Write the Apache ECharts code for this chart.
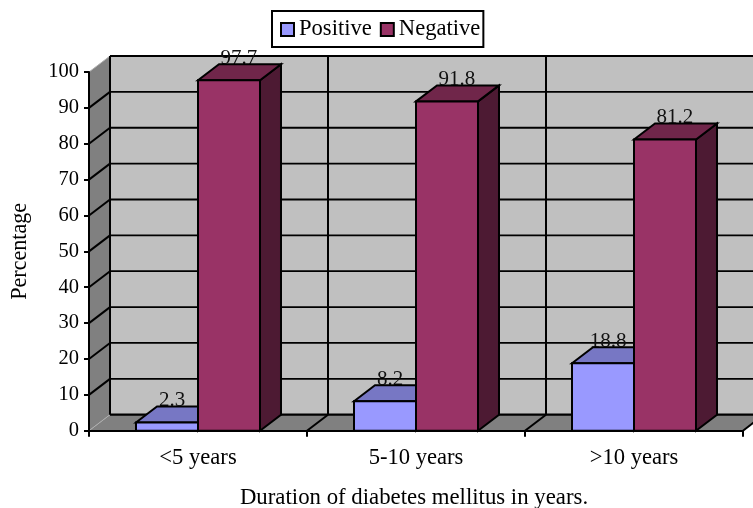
<!DOCTYPE html>
<html>
<head>
<meta charset="utf-8">
<style>html,body{margin:0;padding:0;background:#fff}#c{width:753px;height:508px}</style>
<script src="https://cdn.jsdelivr.net/npm/echarts@6/dist/echarts.min.js"></script>
</head>
<body>
<div id="c"></div>
<script>
var categories = ['<5 years', '5-10 years', '>10 years'];
var positive = [2.3, 8.2, 18.8];
var negative = [97.7, 91.8, 81.2];
var yTicks = [0, 10, 20, 30, 40, 50, 60, 70, 80, 90, 100];

var FONT = '"Liberation Serif", "Times New Roman", serif';
var FS = 22.6;
var FS_SMALL = 21;
var DX = 21, DY = -16;
var WALL = '#C0C0C0', DARKWALL = '#808080';
var posColors = {front: '#9999FF', top: '#7777C4', side: '#5C5C99'};
var negColors = {front: '#993366', top: '#70264A', side: '#4D1A33'};

function poly(pts, fill, stroke, w) {
  return {type: 'polygon', shape: {points: pts},
    style: {fill: fill, stroke: stroke || null, lineWidth: w || 0, lineJoin: 'miter'}};
}
function line(pts, stroke, w) {
  return {type: 'polyline', shape: {points: pts},
    style: {fill: null, stroke: stroke, lineWidth: w}};
}

function renderWalls(params, api) {
  var band = api.size([1, 0])[0];
  var c0 = api.coord([0, 0]), c1 = api.coord([0, 100]);
  var left = c0[0] - band / 2;
  var right = left + band * categories.length;
  var y0 = c0[1], y1 = c1[1];
  var ch = [];
  ch.push(poly([[left + DX, y1 + DY], [right + DX, y1 + DY], [right + DX, y0 + DY], [left + DX, y0 + DY]], WALL));
  ch.push(poly([[left, y1], [left + DX, y1 + DY], [left + DX, y0 + DY], [left, y0]], DARKWALL));
  ch.push(poly([[left, y0], [left + DX, y0 + DY], [right + DX, y0 + DY], [right, y0]], DARKWALL));
  yTicks.forEach(function (t) {
    var y = api.coord([0, t])[1];
    var edge = t === 0 || t === 100;
    ch.push(line([[left, y], [left + DX, y + DY]], edge ? '#B0B0B0' : '#000', edge ? 1 : 2));
    ch.push(line([[left + DX, y + DY], [right + DX, y + DY]], '#000', t === 100 || t === 0 ? 2.2 : 1.8));
  });
  for (var i = 0; i <= categories.length; i++) {
    var x = left + band * i;
    if (i > 0) ch.push(line([[x, y0], [x + DX, y0 + DY]], '#000', 2));
    ch.push(line([[x + DX, y0 + DY], [x + DX, y1 + DY]], '#000', 2));
  }
  return {type: 'group', children: ch};
}

function barRenderer(colors, side) {
  return function (params, api) {
    var band = api.size([1, 0])[0];
    var w = band * 0.2844;
    var c = api.coord([api.value(0), api.value(1)]);
    var b = api.coord([api.value(0), 0]);
    var x0 = side < 0 ? c[0] - w : c[0];
    var x1 = x0 + w, yt = c[1], yb = b[1];
    var s = '#000', lw = 2;
    return {type: 'group', children: [
      poly([[x1, yt], [x1 + DX, yt + DY], [x1 + DX, yb + DY], [x1, yb]], colors.side, s, lw),
      poly([[x0, yt], [x0 + DX, yt + DY], [x1 + DX, yt + DY], [x1, yt]], colors.top, s, lw),
      poly([[x0, yt], [x1, yt], [x1, yb], [x0, yb]], colors.front, s, lw)
    ]};
  };
}

function labelRenderer(side, shift) {
  return function (params, api) {
    var band = api.size([1, 0])[0];
    var w = band * 0.2844;
    var c = api.coord([api.value(0), api.value(1)]);
    return {type: 'text', style: {
      text: String(api.value(1)),
      x: c[0] + side * w / 2 + shift, y: c[1] + DY + 5,
      textAlign: 'center', textVerticalAlign: 'bottom',
      fill: '#111', font: FS_SMALL + 'px ' + FONT
    }};
  };
}

function pairs(arr) { return arr.map(function (v, i) { return [i, v]; }); }

var chart = echarts.init(document.getElementById('c'), null, {renderer: 'canvas'});
chart.setOption({
  animation: false,
  backgroundColor: '#fff',
  textStyle: {fontFamily: FONT},
  grid: {left: 89, right: 10, top: 72, bottom: 77.3, containLabel: false, outerBoundsMode: 'none'},
  legend: {
    data: ['Positive', 'Negative'],
    left: 272, top: 11,
    orient: 'horizontal',
    backgroundColor: '#fff',
    borderColor: '#000', borderWidth: 2, borderRadius: 0,
    padding: [7, 3, 6, 8],
    itemWidth: 13, itemHeight: 13, itemGap: 8,
    icon: 'rect',
    textStyle: {fontFamily: FONT, fontSize: FS, color: '#000'}
  },
  xAxis: {
    type: 'category', data: categories, z: 10,
    boundaryGap: true,
    axisLine: {show: true, lineStyle: {color: '#000', width: 2}},
    axisTick: {show: true, alignWithLabel: false, length: 6, lineStyle: {color: '#000', width: 2}},
    axisLabel: {color: '#000', fontFamily: FONT, fontSize: FS, margin: 16, interval: 0},
    name: 'Duration of diabetes mellitus in years.',
    nameLocation: 'middle', nameGap: 56,
    nameTextStyle: {color: '#000', fontFamily: FONT, fontSize: FS + 0.2, padding: [0, 4, 0, 0]}
  },
  yAxis: {
    type: 'value', min: 0, max: 100, interval: 10, z: 10,
    splitLine: {show: false},
    axisLine: {show: true, lineStyle: {color: '#000', width: 2}},
    axisTick: {show: true, length: 5, lineStyle: {color: '#000', width: 2}},
    axisLabel: {color: '#000', fontFamily: FONT, fontSize: 20.5, margin: 10, padding: [5, 0, 0, 0]},
    name: 'Percentage', nameLocation: 'middle', nameGap: 58, nameRotate: 90,
    nameTextStyle: {color: '#000', fontFamily: FONT, fontSize: FS - 0.5}
  },
  series: [
    {type: 'custom', z: 1, silent: true, renderItem: renderWalls, data: [[0, 0]], encode: {x: 0, y: 1}},
    {type: 'custom', z: 2, silent: true, renderItem: labelRenderer(-1, 5), data: pairs(positive), encode: {x: 0, y: 1}},
    {type: 'custom', z: 2, silent: true, renderItem: labelRenderer(1, 10), data: pairs(negative), encode: {x: 0, y: 1}},
    {type: 'custom', name: 'Positive', z: 3, renderItem: barRenderer(posColors, -1), data: pairs(positive), encode: {x: 0, y: 1},
      itemStyle: {color: posColors.front, borderColor: '#000', borderWidth: 2}},
    {type: 'custom', name: 'Negative', z: 4, renderItem: barRenderer(negColors, 1), data: pairs(negative), encode: {x: 0, y: 1},
      itemStyle: {color: negColors.front, borderColor: '#000', borderWidth: 2}}
  ]
});
</script>
</body>
</html>
